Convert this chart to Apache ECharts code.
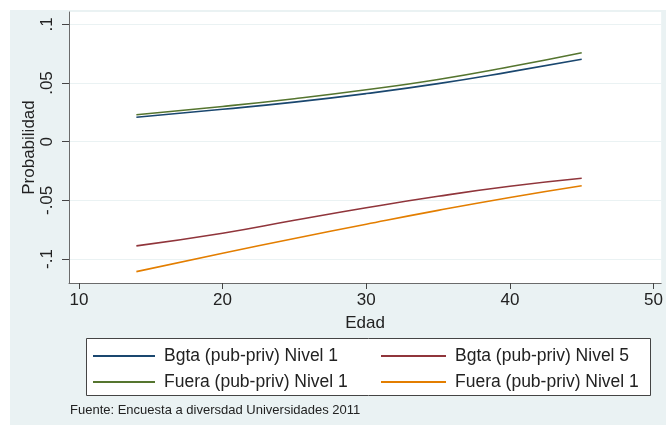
<!DOCTYPE html>
<html>
<head>
<meta charset="utf-8">
<script src="https://cdn.jsdelivr.net/npm/echarts@6/dist/echarts.min.js"></script>
<style>
html,body{margin:0;padding:0;background:#fff;}
#c{width:666px;height:425px;}
</style>
</head>
<body>
<div id="c"></div>
<script>
const ages = [14, 20, 25, 30, 35, 40, 45];
const bgtaN1 = [0.0208, 0.0276, 0.0337, 0.0410, 0.0495, 0.0595, 0.0702];
const fueraN1g = [0.0230, 0.0300, 0.0366, 0.0442, 0.0530, 0.0638, 0.0758];
const bgtaN5 = [-0.0888, -0.0780, -0.0670, -0.0563, -0.0465, -0.0380, -0.0312];
const fueraN1o = [-0.1107, -0.0950, -0.0825, -0.0703, -0.0585, -0.0475, -0.0375];
const xTicks = [10, 20, 30, 40, 50];
const yTicks = [-0.1, -0.05, 0, 0.05, 0.1];
const names = ['Bgta (pub-priv) Nivel 1', 'Fuera (pub-priv) Nivel 1', 'Bgta (pub-priv) Nivel 5', 'Fuera (pub-priv) Nivel 1 '];
const source = 'Fuente: Encuesta a diversdad Universidades 2011';

const FONT = '"Liberation Sans", Arial, sans-serif';
const colors = ['#1a476f', '#55752f', '#90353b', '#e37e00'];
const seriesData = [bgtaN1, fueraN1g, bgtaN5, fueraN1o];

function fmtY(v) {
  if (Math.abs(v) < 1e-9) return '0';
  let s = String(+v.toFixed(3));
  return s.replace('0.', '.');
}

const chart = echarts.init(document.getElementById('c'), null, {renderer: 'canvas'});
chart.setOption({
  backgroundColor: '#eaf2f3',
  animation: false,
  textStyle: {fontFamily: FONT},
  graphic: [
    {type: 'rect', shape: {x: 0, y: 0, width: 666, height: 10}, style: {fill: '#fff'}, silent: true},
    {type: 'rect', shape: {x: 0, y: 0, width: 10, height: 425}, style: {fill: '#fff'}, silent: true},
    {type: 'rect', z: 1, shape: {x: 86.5, y: 338.5, width: 564, height: 57}, style: {fill: '#fff', stroke: '#444', lineWidth: 1}, silent: true},
    {type: 'text', left: 70, top: 404, style: {text: source, fontSize: 13, fill: '#222', fontFamily: FONT}}
  ],
  grid: {
    left: 69, right: 0, top: 12, bottom: 142,
    show: true, backgroundColor: '#fff', borderWidth: 0
  },
  legend: [
    {
      data: [names[0], names[1]], orient: 'vertical', left: 93, top: 347, itemGap: 8,
      itemWidth: 62, itemHeight: 2, icon: 'rect',
      textStyle: {fontSize: 17.5, color: '#222', fontFamily: FONT, padding: [0, 0, 0, 4]},
      padding: 0, z: 5
    },
    {
      data: [names[2], names[3]], orient: 'vertical', left: 381, top: 347, itemGap: 8,
      itemWidth: 65, itemHeight: 2, icon: 'rect',
      textStyle: {fontSize: 17.5, color: '#222', fontFamily: FONT, padding: [0, 0, 0, 4]},
      padding: 0, z: 5
    }
  ],
  xAxis: {
    type: 'value', min: 9.31, max: 50.53,
    name: 'Edad', nameLocation: 'middle', nameGap: 32, nameMoveOverlap: false,
    nameTextStyle: {fontSize: 17, color: '#222', fontFamily: FONT},
    axisLine: {show: true, onZero: false, lineStyle: {color: '#6b6b6b', width: 1}},
    axisTick: {show: true, length: 6, lineStyle: {color: '#444'}, customValues: xTicks},
    axisLabel: {fontSize: 17, color: '#222', margin: 9, customValues: xTicks, fontFamily: FONT},
    splitLine: {show: false}
  },
  yAxis: {
    type: 'value', min: -0.1204, max: 0.1105,
    name: 'Probabilidad', nameLocation: 'middle', nameGap: 31, nameRotate: 90, nameMoveOverlap: false,
    nameTextStyle: {fontSize: 17, color: '#222', fontFamily: FONT},
    axisLine: {show: true, onZero: false, lineStyle: {color: '#6b6b6b', width: 1}},
    axisTick: {show: true, length: 7, lineStyle: {color: '#444'}, customValues: yTicks},
    axisLabel: {fontSize: 17, color: '#222', margin: 13, rotate: 90, customValues: yTicks, formatter: fmtY, fontFamily: FONT},
    splitLine: {show: true, lineStyle: {color: '#eaf2f3', width: 1}}
  },
  series: seriesData.map((arr, i) => ({
    name: names[i],
    type: 'line',
    smooth: true,
    showSymbol: false,
    symbol: 'none',
    color: colors[i],
    lineStyle: {width: 1.6, color: colors[i]},
    data: ages.map((a, j) => [a, arr[j]]),
    z: 3
  }))
});
</script>
</body>
</html>
